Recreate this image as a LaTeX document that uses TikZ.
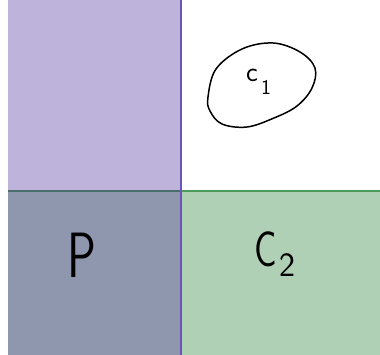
\documentclass[tikz,border=0pt]{standalone}
\usetikzlibrary{calc}
\definecolor{lpurple}{HTML}{BEB3DA}
\definecolor{slate}{HTML}{8F97AF}
\definecolor{lgreen}{HTML}{AFD0B5}
\definecolor{vline}{HTML}{6B55B8}
\definecolor{hgreen}{HTML}{4E9A5B}
\definecolor{hdark}{HTML}{4A6E6B}
\begin{document}
\begin{tikzpicture}[x=1pt,y=1pt,
  hand/.style={inner sep=0pt, font=\sffamily},
  stroke/.style={line width=1.5pt, line cap=round, line join=round}]
\useasboundingbox (0,0) rectangle (380,355);
\fill[white] (0,0) rectangle (380,355);
\fill[lpurple] (8,164) rectangle (181,355);
\fill[slate] (8,0) rectangle (181,164);
\fill[lgreen] (181,0) rectangle (380,164);
\coordinate (hl) at (8,164);
\coordinate (hm) at (181,164);
\coordinate (hr) at (380,164);
\coordinate (vt) at (181,355);
\coordinate (vb) at (181,0);
\draw[hdark, line width=1.4pt] (hl) -- (hm);
\draw[hgreen, line width=1.4pt] (hm) -- (hr);
\draw[vline, line width=1.5pt] (vt) -- (vb);
% c1 ellipse
\draw[stroke] plot[smooth cycle, tension=0.6] coordinates {(208,258) (216,286) (242,306) (273,312) (300,303) (315,287) (312,267) (297,249) (274,237) (247,228) (222,231) (210,244)};
\node[hand, font=\sffamily\fontsize{28}{28}\selectfont] (c) at (252,280) {c};
\node[hand, font=\sffamily\fontsize{21}{21}\selectfont] (one) at (266,268) {1};
\node[hand, font=\sffamily\fontsize{64}{64}\selectfont] (P) at (82,100) {\scalebox{0.75}[1]{P}};
\node[hand, font=\sffamily\fontsize{50}{50}\selectfont] (C) at (266,106) {\scalebox{0.75}[1]{C}};
\node[hand, font=\sffamily\fontsize{34}{34}\selectfont] (two) at (287,90) {2};
\end{tikzpicture}
\end{document}
